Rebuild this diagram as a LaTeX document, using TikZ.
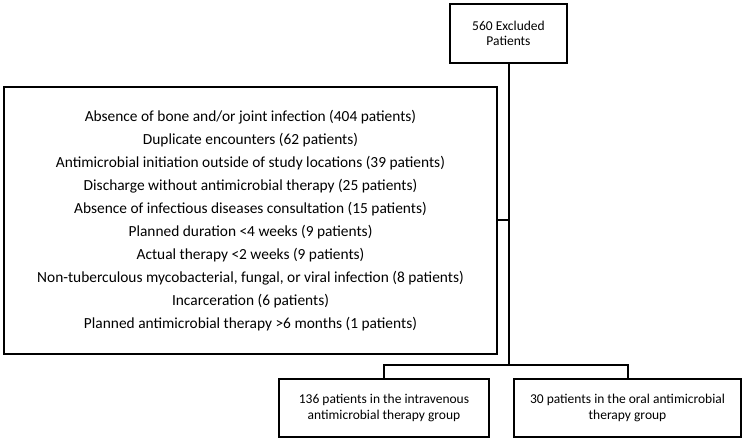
\documentclass[tikz,border=0pt]{standalone}
\usepackage{fontspec}
\setmainfont{Carlito}
\usetikzlibrary{positioning, calc}

\begin{document}
\begin{tikzpicture}[x=1pt, y=-1pt,
  fbox/.style={draw, line width=2pt, align=center, inner sep=0pt, font=\fontsize{13.5}{15.5}\selectfont},
  flink/.style={line width=2pt}
]
  \useasboundingbox (0,0) rectangle (745,443);

  \node[fbox, minimum width=117pt, minimum height=59pt] (excl) at (508.5, 33.5) {
    560 Excluded\\
    Patients
  };

  \node[fbox, minimum width=493pt, minimum height=267pt, font=\fontsize{15.4}{23}\selectfont] (reasons) at (250.5, 220.5) {
    Absence of bone and/or joint infection (404 patients)\\
    Duplicate encounters (62 patients)\\
    Antimicrobial initiation outside of study locations (39 patients)\\
    Discharge without antimicrobial therapy (25 patients)\\
    Absence of infectious diseases consultation (15 patients)\\
    Planned duration <4 weeks (9 patients)\\
    Actual therapy <2 weeks (9 patients)\\
    Non-tuberculous mycobacterial, fungal, or viral infection (8 patients)\\
    Incarceration (6 patients)\\
    Planned antimicrobial therapy >6 months (1 patients)
  };

  \node[fbox, minimum width=210pt, minimum height=58pt] (iv) at (384, 408) {
    136 patients in the intravenous\\
    antimicrobial therapy group
  };

  \node[fbox, minimum width=227pt, minimum height=58pt] (oral) at (627.5, 408) {
    30 patients in the oral antimicrobial\\
    therapy group
  };

  \coordinate (split) at (508.5, 365);
  \draw[flink] (excl.south) -- (split);
  \draw[flink] (reasons.east) -- (reasons.east -| split);
  \draw[flink] (iv.north) |- (split) -| (oral.north);
\end{tikzpicture}
\end{document}
